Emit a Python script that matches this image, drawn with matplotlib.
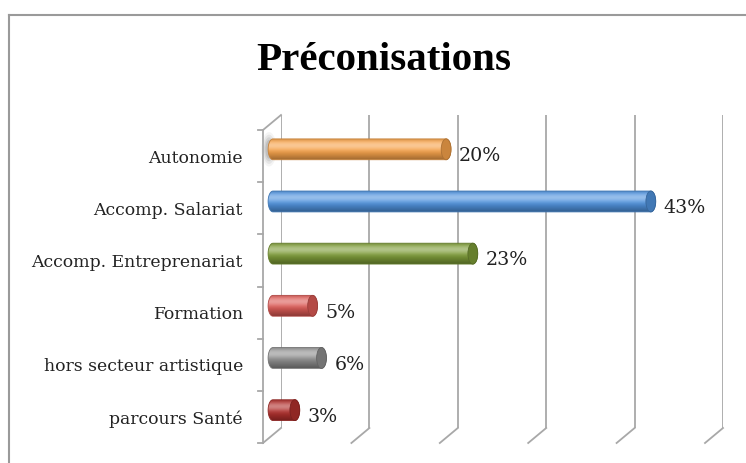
import numpy as np
import matplotlib.pyplot as plt
from matplotlib.patches import Polygon, Ellipse
from matplotlib.lines import Line2D
from matplotlib.colors import to_rgb

categories = ["Autonomie", "Accomp. Salariat", "Accomp. Entreprenariat",
              "Formation", "hors secteur artistique", "parcours Santé"]
values = [20, 43, 23, 5, 6, 3]
colors = ["#F6A24A", "#4F92DD", "#7D9B37", "#DB5A55", "#8E8E8E", "#B02F2C"]
grid_ticks = [0, 10, 20, 30, 40, 50]

W, H = 746, 463
fig = plt.figure(figsize=(W / 100, H / 100), dpi=100)


def fx(px):
    return px / W


def fy(py):
    return 1 - py / H


# outer frame (left + top only visible)
fig.add_artist(Line2D([fx(9), fx(9)], [0, fy(15)], color="#9a9a9a", lw=1.5))
fig.add_artist(Line2D([fx(9), 1], [fy(15), fy(15)], color="#9a9a9a", lw=1.5))

fig.text(fx(384), fy(61), "Préconisations", ha="center", va="center",
         fontsize=29.5, fontweight="bold", family="Liberation Serif")

# back wall with gridlines
ax_back = fig.add_axes([fx(281), fy(428), fx(442), (428 - 115) / H])
ax_back.set_xlim(0, 50)
ax_back.set_ylim(0, 1)
ax_back.axis("off")
grid_col = "#a8a8a8"
ax_back.vlines(grid_ticks, 0, 1, color=grid_col, lw=1.3)
dx, dy = -18, -15
for g in grid_ticks:
    p = ax_back.transData.transform((g, 0))
    fig.add_artist(Line2D([p[0], p[0] + dx], [p[1], p[1] + dy],
                          transform=None, color=grid_col, lw=1.3))
# left wall
top = ax_back.transData.transform((0, 1))
bot = ax_back.transData.transform((0, 0))
fig.add_artist(Line2D([top[0], top[0] + dx], [top[1], top[1] + dy],
                      transform=None, color=grid_col, lw=1.3))
fig.add_artist(Line2D([top[0] + dx, bot[0] + dx], [top[1] + dy, bot[1] + dy],
                      transform=None, color=grid_col, lw=1.3))
n = len(categories)
for k in range(n + 1):
    yy = top[1] + dy + (bot[1] - top[1]) * k / n
    fig.add_artist(Line2D([top[0] + dx - 5, top[0] + dx], [yy, yy],
                          transform=None, color=grid_col, lw=1.3))

# front axes with bars (0% sits at x=273 px, 8.9 px per %)
ax = fig.add_axes([fx(267), fy(443), fx(451), (443 - 130) / H])
x0 = -6 / 8.9


def cylinder(y, v, color, h=0.40, cap=1.1):
    base = np.array(to_rgb(color))
    t = np.linspace(0, 1, 64)
    light = 0.40 * np.exp(-((t - 0.3) / 0.22) ** 2)
    dark = 0.36 * np.clip((t - 0.45) / 0.55, 0, 1) ** 1.3 \
        + 0.12 * np.clip((0.15 - t) / 0.15, 0, 1)
    rgb = base[None, :] * (1 - dark[:, None])
    rgb = rgb + (1 - rgb) * light[:, None]
    img = rgb[:, None, :]
    end = v - cap / 2
    th = np.linspace(np.pi / 2, 3 * np.pi / 2, 30)
    left = np.column_stack([cap / 2 * np.cos(th), y + h / 2 * np.sin(th)])
    th2 = np.linspace(-np.pi / 2, np.pi / 2, 30)
    right = np.column_stack([end + cap / 2 * np.cos(th2), y + h / 2 * np.sin(th2)])
    poly = Polygon(np.vstack([left, right]), closed=True, facecolor="none",
                   edgecolor=base * 0.8, lw=0.6, zorder=3)
    ax.add_patch(poly)
    im = ax.imshow(img, extent=(-cap / 2, v, y + h / 2, y - h / 2),
                   aspect="auto", interpolation="bilinear", zorder=2)
    im.set_clip_path(poly)
    ax.add_patch(Ellipse((end, y), cap, h, facecolor=base * 0.82,
                         edgecolor=base * 0.7, lw=0.6, zorder=4))


# soft shadow at the left end of the first bar
for k, a in enumerate([0.08, 0.12, 0.16, 0.22]):
    ax.add_patch(Ellipse((-0.45, -0.13), 1.7 - 0.3 * k, 0.66 - 0.1 * k,
                         facecolor="#7a7a7a", edgecolor="none", alpha=a,
                         zorder=1, clip_on=False))

for i, (v, c) in enumerate(zip(values, colors)):
    cylinder(i - 0.13, v, c)
    ax.annotate(f"{v}%", (v, i), xytext=(8, 0), textcoords="offset pixels",
                ha="left", va="center", fontsize=13.7, family="DejaVu Serif",
                color="#222222")

ax.set_xlim(x0, 50)
ax.set_ylim(n - 0.5, -0.5)
ax.set_yticks(range(n))
ax.set_yticklabels(categories, family="DejaVu Serif", fontsize=12.4, color="#222222")
ax.tick_params(axis="y", length=0, pad=17.3)
ax.set_xticks([])
for s in ax.spines.values():
    s.set_visible(False)
ax.patch.set_visible(False)

fig.savefig("out.png", dpi=100)
